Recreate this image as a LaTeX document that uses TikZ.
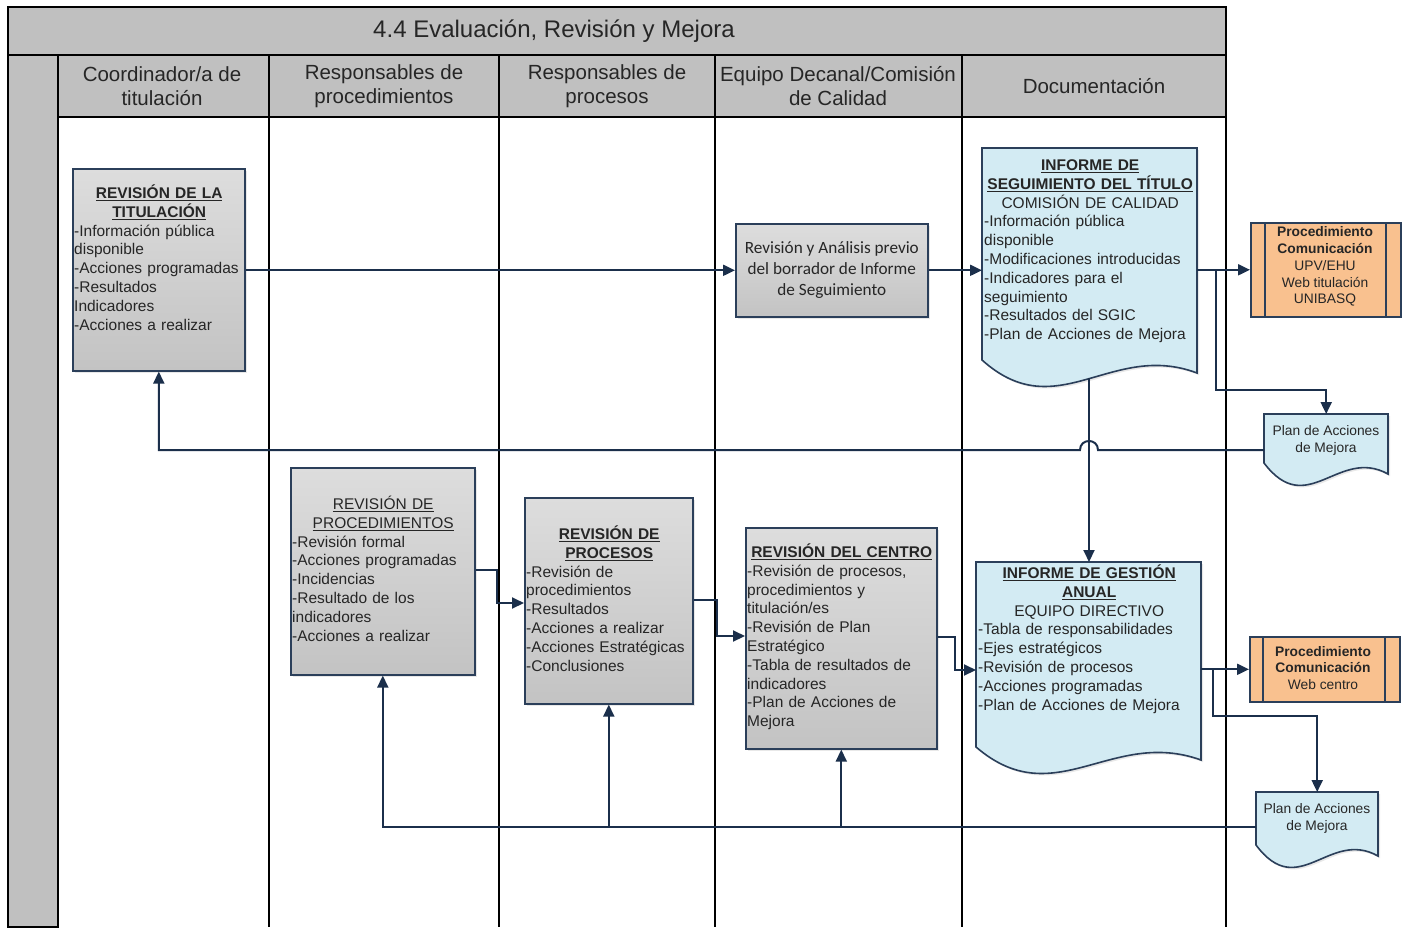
\documentclass[tikz,border=0pt]{standalone}
\usepackage{fontspec}
\setmainfont{Liberation Sans}
\newfontfamily\calibrifont{Carlito}
\usetikzlibrary{arrows.meta,shadows}
\setlength\parindent{0pt}
\definecolor{ln}{HTML}{1B2F4B}
\definecolor{bd}{HTML}{2B3F5A}
\definecolor{hdr}{HTML}{C0C0C0}
\definecolor{lblue}{HTML}{D3EBF3}
\definecolor{orng}{HTML}{F9C18F}
\definecolor{gtop}{HTML}{DDDDDD}
\definecolor{gbot}{HTML}{C3C3C3}
\definecolor{txt}{HTML}{262626}
\tikzset{
  lane/.style={draw=black, line width=1.5pt},
  hdrcell/.style={fill=hdr, draw=black, line width=1.5pt},
  hdrtxt/.style={font=\fontsize{20.5}{24}\selectfont, align=center, text=txt, inner sep=0pt},
  graybox/.style={draw=bd, line width=1.6pt, top color=gtop, bottom color=gbot, inner sep=0pt,
    drop shadow={opacity=0.18, shadow xshift=2pt, shadow yshift=-2pt}},
  boxtxt/.style={font=\fontsize{15.5}{18.8}\selectfont, text width=#1, inner sep=0pt, text=txt},
  anatxt/.style={font=\calibrifont\fontsize{17.2}{21}\selectfont, align=center, text=txt},
  smalltxt/.style={font=\fontsize{13.8}{16.8}\selectfont, align=center, text=txt, inner sep=0pt},
  conn/.style={draw=ln, line width=2pt, -{Triangle[length=12pt,width=11pt]}},
  docbox/.style={draw=bd, line width=1.6pt, fill=lblue,
    drop shadow={opacity=0.18, shadow xshift=2pt, shadow yshift=-2pt}},
  procbox/.style={draw=bd, line width=1.6pt, fill=orng, inner sep=0pt},
  ghost/.style={inner sep=0pt, anchor=north west},
}
% document shape: xl, yt, xr, yb, amplitude
\newcommand\docpath[5]{%
  \path[docbox] (#1,#2) -- (#3,#2) -- (#3,{#4+0.5*#5})
    .. controls ({#1+0.6*(#3-#1)},{#4-0.75*#5}) and ({#1+0.35*(#3-#1)},{#4+2.6*#5}) .. (#1,#4) -- cycle;}
\begin{document}
\begin{tikzpicture}[x=1pt,y=-1pt]
\useasboundingbox[fill=white] (0,0) rectangle (1406,927);

% ---- frame, title, headers ----
\path[hdrcell] (8,7) rectangle (1226,55);
\node[font=\fontsize{24}{28}\selectfont, text=txt] (title) at (554,31) {4.4 Evaluación, Revisión y Mejora};
\path[hdrcell] (8,55) rectangle (58,927);
\path[hdrcell] (58,55) rectangle (269,117);
\path[hdrcell] (269,55) rectangle (499,117);
\path[hdrcell] (499,55) rectangle (715,117);
\path[hdrcell] (715,55) rectangle (962,117);
\path[hdrcell] (962,55) rectangle (1226,117);
\foreach \xx in {269,499,715,962,1226} \draw[lane] (\xx,117) -- (\xx,927);
\draw[lane] (1226,7) -- (1226,927);

\node[hdrtxt] (h1) at (162,86) {Coordinador/a de\\titulación};
\node[hdrtxt] (h2) at (384,86) {Responsables de\\procedimientos};
\node[hdrtxt] (h3) at (607,86) {Responsables de\\procesos};
\node[hdrtxt] (h4) at (838,86) {Equipo Decanal/Comisión\\de Calidad};
\node[hdrtxt] (h5) at (1094,86) {Documentación};

% ---- gray process boxes ----
\node[graybox, minimum width=172, minimum height=202, anchor=north west] (tit) at (72,168) {};
\node[boxtxt=170, anchor=base west] (titT) at (74,198.5)
  {{\centering\bfseries\underline{REVISIÓN DE LA}\\\underline{TITULACIÓN}\par}\raggedright
   -Información pública\\disponible\\-Acciones programadas\\-Resultados\\Indicadores\\-Acciones a realizar\par};

\node[graybox, minimum width=192, minimum height=93, anchor=north west] (ana) at (735,223) {};
\node[anatxt] (anaT) at (ana.center) {Revisión y Análisis previo\\del borrador de Informe\\de Seguimiento};

\node[graybox, minimum width=184, minimum height=207, anchor=north west] (pro) at (290,467) {};
\node[boxtxt=182, anchor=base west] (proT) at (292,509.5)
  {{\centering\underline{REVISIÓN DE}\\\underline{PROCEDIMIENTOS}\par}\raggedright
   -Revisión formal\\-Acciones programadas\\-Incidencias\\-Resultado de los\\indicadores\\-Acciones a realizar\par};

\node[graybox, minimum width=168, minimum height=206, anchor=north west] (prc) at (524,497) {};
\node[boxtxt=166, anchor=base west] (prcT) at (526,539.5)
  {{\centering\bfseries\underline{REVISIÓN DE}\\\underline{PROCESOS}\par}\raggedright
   -Revisión de\\procedimientos\\-Resultados\\-Acciones a realizar\\-Acciones Estratégicas\\-Conclusiones\par};

\node[graybox, minimum width=191, minimum height=221, anchor=north west] (cen) at (745,527) {};
\node[boxtxt=189, anchor=base west] (cenT) at (747,557.5)
  {{\centering\bfseries\underline{REVISIÓN DEL CENTRO}\par}\raggedright
   -Revisión de procesos,\\procedimientos y\\titulación/es\\-Revisión de Plan\\Estratégico\\-Tabla de resultados de\\indicadores\\-Plan de Acciones de\\Mejora\par};

% ---- document shapes ----
\docpath{982}{148}{1197}{360}{26}
\node[ghost, minimum width=215, minimum height=212] (seg) at (982,148) {};
\node[boxtxt=212, anchor=base west] (segT) at (984,170.5)
  {{\centering{\bfseries\underline{INFORME DE}\\\underline{SEGUIMIENTO DEL TÍTULO}}\\COMISIÓN DE CALIDAD\par}\raggedright
   -Información pública\\disponible\\-Modificaciones introducidas\\-Indicadores para el\\seguimiento\\-Resultados del SGIC\\-Plan de Acciones de Mejora\par};

\docpath{976}{562}{1201}{747}{26}
\node[ghost, minimum width=225, minimum height=185] (ges) at (976,562) {};
\node[boxtxt=222, anchor=base west] (gesT) at (978,578.5)
  {{\centering{\bfseries\underline{INFORME DE GESTIÓN}\\\underline{ANUAL}}\\EQUIPO DIRECTIVO\par}\raggedright
   -Tabla de responsabilidades\\-Ejes estratégicos\\-Revisión de procesos\\-Acciones programadas\\-Plan de Acciones de Mejora\par};

\docpath{1264}{414}{1388}{463}{22}
\node[ghost, minimum width=124, minimum height=49] (plan1) at (1264,414) {};
\node[smalltxt] (plan1T) at (1326,440.5) {Plan de Acciones\\de Mejora};

\docpath{1256}{792}{1378}{845}{22}
\node[ghost, minimum width=122, minimum height=53] (plan2) at (1256,792) {};
\node[smalltxt] (plan2T) at (1317,818.5) {Plan de Acciones\\de Mejora};

% ---- communication procedure boxes ----
\node[procbox, minimum width=150, minimum height=94, anchor=north west] (upv) at (1250,222) {};
\draw[bd, line width=1.4pt] (1265,222) -- (1265,316) (1386,222) -- (1386,316);
\node[smalltxt] (upvT) at (1325,266.5) {\textbf{Procedimiento}\\\textbf{Comunicación}\\UPV/EHU\\Web titulación\\UNIBASQ};

\node[procbox, minimum width=150, minimum height=65, anchor=north west] (web) at (1249,636) {};
\draw[bd, line width=1.4pt] (1263,636) -- (1263,701) (1385,636) -- (1385,701);
\node[smalltxt] (webT) at (1323,668) {\textbf{Procedimiento}\\\textbf{Comunicación}\\Web centro};

% ---- connectors ----
\draw[conn] (tit.east |- ana.west) -- (ana.west);
\draw[conn] (ana.east) -- (seg.west |- ana.east);
\draw[conn] (seg.east |- upv.west) -- (upv.west);
\coordinate (b1) at (1216,269.5);
\draw[conn] (b1) -- (b1 |- 0,390) -- (plan1.north |- 0,390) -- (plan1.north);

\coordinate (segbot) at (1089,378);
\draw[conn] (segbot) -- (segbot |- ges.north);

\draw[conn] (plan1.west |- 0,450) -- (1098,450) .. controls (1098,438) and (1080,438) .. (1080,450)
  -- (tit.south |- 0,450) -- (tit.south);

\draw[conn] (pro.east |- 0,570) -- (497,570) -- (497,603) -- (prc.west |- 0,603);
\draw[conn] (prc.east |- 0,600) -- (717,600) -- (717,636) -- (cen.west |- 0,636);
\draw[conn] (cen.east |- 0,637) -- (955,637) -- (955,670) -- (ges.west |- 0,670);

\draw[conn] (ges.east |- web.west) -- (web.west);
\coordinate (b2) at (1213,668.5);
\draw[conn] (b2) -- (b2 |- 0,716) -- (plan2.north |- 0,716) -- (plan2.north);

\draw[conn] (plan2.west |- 0,827) -- (pro.south |- 0,827) -- (pro.south);
\draw[conn] (prc.south |- 0,827) -- (prc.south);
\draw[conn] (cen.south |- 0,827) -- (cen.south);
\end{tikzpicture}
\end{document}
